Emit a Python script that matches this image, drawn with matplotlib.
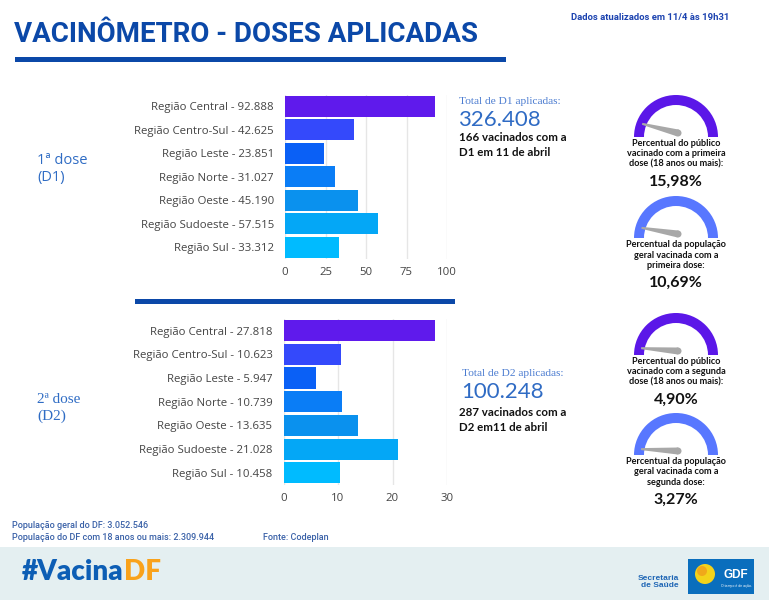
import numpy as np
import matplotlib
matplotlib.use("Agg")
import matplotlib.pyplot as plt
from matplotlib.patches import Rectangle, Wedge, Polygon, Circle

# ---- data ----
regioes = ["Região Central", "Região Centro-Sul", "Região Leste", "Região Norte",
           "Região Oeste", "Região Sudoeste", "Região Sul"]
d1_mil = [92.888, 42.625, 23.851, 31.027, 45.190, 57.515, 33.312]
d2_mil = [27.818, 10.623, 5.947, 10.739, 13.635, 21.028, 10.458]
d1_ticks = [0, 25, 50, 75, 100]
d2_ticks = [0, 10, 20, 30]

total_d1 = "326.408"
total_d2 = "100.248"
vac_dia_d1 = "166 vacinados com a\nD1 em 11 de abril"
vac_dia_d2 = "287 vacinados com a\nD2 em11 de abril"

gauge_pct = [15.98, 10.69, 4.90, 3.27]
gauge_txt = ["Percentual do público\nvacinado com a primeira\ndose (18 anos ou mais):",
             "Percentual da população\ngeral vacinada com a\nprimeira dose:",
             "Percentual do público\nvacinado com a segunda\ndose (18 anos ou mais):",
             "Percentual da população\ngeral vacinada com a\nsegunda dose:"]
gauge_max = 200.0

bar_colors = ["#5f1aec", "#3449fb", "#0a60f6", "#0a7df6", "#0a91ee", "#04a7f6", "#00bbff"]
azul = "#0b48a8"

W, H = 769, 600
fig = plt.figure(figsize=(W / 100, H / 100), dpi=100)

# overlay in pixel coordinates
ov = fig.add_axes([0, 0, 1, 1])
ov.set_xlim(0, W)
ov.set_ylim(H, 0)
ov.axis("off")

# header
ov.text(14, 34, "VACINÔMETRO - DOSES APLICADAS", fontsize=20, fontweight="bold",
        family="Roboto", color=azul, va="center", ha="left")
ov.add_patch(Rectangle((15, 56.5), 491, 5, color=azul, lw=0))
ov.text(571, 18, "Dados atualizados em 11/4 às 19h31", fontsize=6.8, fontweight="bold",
        family="Roboto", color="#1c43b0", va="center")

# separator between charts
ov.add_patch(Rectangle((135, 298.5), 320, 5, color=azul, lw=0))

# dose labels
ov.text(37, 169, "1ª dose\n(D1)", fontsize=10.5, family="Open Sans", color="#2f6cc4",
        va="center", ha="left", linespacing=1.25)
ov.text(37, 408, "2ª dose\n(D2)", fontsize=11, family="Liberation Serif", color="#2f6cc4",
        va="center", ha="left", linespacing=1.3)

# totals
ov.text(459, 101, "Total de D1 aplicadas:", fontsize=8.2, family="Liberation Serif",
        color="#4a7bd0", va="center")
ov.text(458, 120, total_d1, fontsize=16, family="Lato",
        color="#2f6bc4", va="center")
ov.text(459, 145, vac_dia_d1, fontsize=8.3, family="Lato", fontweight="bold",
        color="#111111", va="center", linespacing=1.45)

ov.text(462, 373, "Total de D2 aplicadas:", fontsize=8.2, family="Liberation Serif",
        color="#4a7bd0", va="center")
ov.text(461, 392, total_d2, fontsize=16, family="Lato",
        color="#2f6bc4", va="center")
ov.text(459, 420, vac_dia_d2, fontsize=8.3, family="Lato", fontweight="bold",
        color="#111111", va="center", linespacing=1.45)

# gauges
gcx = 676
gcy = [137, 238, 355, 455]
gcol = ["#5b17e8", "#5877ff", "#5b17e8", "#5877ff"]
for pct, txt, cy, col in zip(gauge_pct, gauge_txt, gcy, gcol):
    ov.add_patch(Wedge((gcx, cy), 42, 180, 360, width=10, color=col, lw=0))
    a = np.pi - np.pi * pct / gauge_max
    d = np.array([np.cos(a), -np.sin(a)])
    n = np.array([np.sin(a), np.cos(a)])
    base = np.array([gcx + 2, cy - 4])
    tip = base + 37 * d
    ov.add_patch(Polygon([base + 3.5 * n, tip + 1 * n, tip - 1 * n, base - 3.5 * n],
                         closed=True, color="#a8a8a8", lw=0))
    ov.add_patch(Circle(base, 3.5, color="#a8a8a8", lw=0))
    ov.text(gcx, cy + 17, txt, fontsize=6.6, family="Lato", fontweight="bold",
            color="#111111", ha="center", va="center", linespacing=1.2)
    ov.text(gcx, cy + 45, f"{pct:.2f}%".replace(".", ","), fontsize=11.5, family="Lato",
            fontweight="bold", color="#111111", ha="center", va="center")

# footer
foot = dict(fontsize=6.5, fontweight="medium", family="Roboto", color="#3b62a8", va="center")
ov.text(12, 525, "População geral do DF: 3.052.546", **foot)
ov.text(12, 537, "População do DF com 18 anos ou mais: 2.309.944", **foot)
ov.text(263, 537, "Fonte: Codeplan", **foot)

ov.add_patch(Rectangle((0, 547), W, 53, color="#e4eff1", lw=0))
t1 = ov.text(22, 572, "#Vacina", fontsize=20, family="Lato", fontweight="heavy",
             color="#0d5eb5", va="center", ha="left")
fig.canvas.draw()
bb = t1.get_window_extent().transformed(ov.transData.inverted())
ov.text(bb.x1, 572, "DF", fontsize=20, family="Lato", fontweight="heavy",
        color="#f9a21b", va="center", ha="left")

ov.text(679, 582, "Secretaria\nde Saúde", fontsize=6, family="Liberation Sans", fontweight="bold",
        color="#1f66b5", ha="right", va="center", linespacing=1.1)
ov.add_patch(Rectangle((688, 559), 66, 35, color="#0a6ebd", lw=0))
ov.add_patch(Circle((705, 574), 10, color="#f3d21a", lw=0))
ov.add_patch(Circle((702, 571), 5, color="#f0a81a", lw=0))
ov.text(736, 575, "GDF", fontsize=8.5, family="Liberation Sans", fontweight="bold",
        color="white", ha="center", va="center")
ov.text(736, 586, "O tempo é de ação.", fontsize=2.5, family="Liberation Sans",
        color="white", ha="center", va="center")


def bar_panel(rect, vals, ticks):
    ax = fig.add_axes(rect)
    ax.patch.set_alpha(0)
    y = np.arange(len(vals))
    ax.barh(y, vals, height=0.895, color=bar_colors, zorder=3)
    ax.set_ylim(len(vals) - 0.5, -0.5)
    ax.set_xlim(ticks[0], ticks[-1])
    ax.set_xticks(ticks)
    ax.set_yticks(y)
    ax.set_yticklabels([f"{r} - {v:.3f}" for r, v in zip(regioes, vals)])
    for s in ax.spines.values():
        s.set_visible(False)
    ax.grid(axis="x", color="#e6e6e6", lw=1, zorder=0)
    ax.tick_params(axis="both", length=0, labelsize=8.2, labelcolor="#444444")
    ax.tick_params(axis="y", pad=8)
    ax.tick_params(axis="x", pad=6)
    for lab in ax.get_xticklabels() + ax.get_yticklabels():
        lab.set_family("Open Sans")
    return ax


bar_panel([285 / W, 1 - 258.8 / H, 162 / W, 164.3 / H], d1_mil, d1_ticks)
bar_panel([283.5 / W, 1 - 484.7 / H, 163.5 / W, 166 / H], d2_mil, d2_ticks)

fig.savefig("out.png", dpi=100)
